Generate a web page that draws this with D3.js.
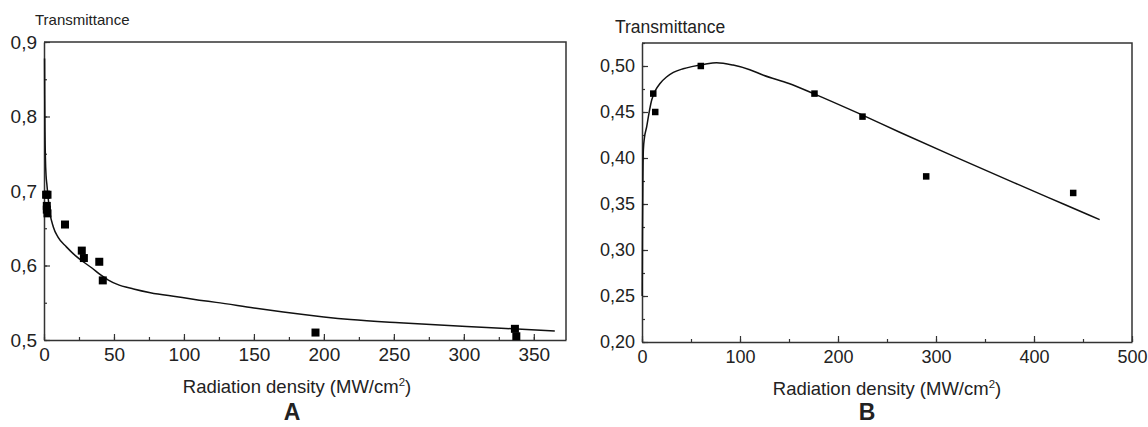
<!DOCTYPE html>
<html lang="en">
<head>
  <meta charset="UTF-8">
  <title>Transmittance vs radiation density</title>
  <script src="https://cdn.jsdelivr.net/npm/d3@7"></script>
  <style>
    body { margin: 0; background: #fff; }
    text { font-family: "Liberation Sans", Arial, sans-serif; fill: #222; }
  </style>
</head>
<body>
  <svg id="chart" width="1148" height="427"></svg>
  <script>
    // panel A: measured points
    const densityA = [1.5, 2.5, 2, 2, 2.5, 15, 27, 28.5, 39.5, 42, 194, 336.5, 337.5];
    const transA = [0.695, 0.695, 0.68, 0.675, 0.67, 0.655, 0.62, 0.61, 0.605, 0.58, 0.51, 0.515, 0.505];
    // panel A: fitted curve
    const fitDensityA = [0.4, 0.5, 0.7, 1, 1.5, 2, 3, 4.3, 6.6, 10, 16, 22, 28, 34, 40, 46, 52, 64, 76, 95, 111, 123, 150, 171, 200, 219, 254, 302, 330, 365];
    const fitTransA = [0.878, 0.83, 0.78, 0.745, 0.72, 0.71, 0.69, 0.67, 0.652, 0.638, 0.625, 0.614, 0.605, 0.597, 0.588, 0.5805, 0.575, 0.5685, 0.5635, 0.558, 0.5535, 0.5505, 0.543, 0.5375, 0.531, 0.5275, 0.523, 0.518, 0.5155, 0.512];
    const xTicksA = [0, 50, 100, 150, 200, 250, 300, 350];
    const yTicksA = [0.5, 0.6, 0.7, 0.8, 0.9];

    // panel B: measured points
    const densityB = [11.5, 13.5, 60, 176, 225, 290, 440];
    const transB = [0.47, 0.45, 0.5, 0.47, 0.445, 0.38, 0.362];
    // panel B: fitted curve
    const fitDensityB = [0.2, 0.5, 0.9, 1.4, 2.5, 4.8, 7, 9.9, 14, 18.4, 25, 32, 42, 52, 64, 76, 93, 110, 124, 150, 175, 220, 263, 320, 380, 430, 467];
    const fitTransB = [0.25, 0.32, 0.375, 0.409, 0.422, 0.434, 0.448, 0.463, 0.474, 0.481, 0.488, 0.493, 0.497, 0.4996, 0.502, 0.5036, 0.501, 0.496, 0.49, 0.481, 0.47, 0.449, 0.428, 0.401, 0.373, 0.35, 0.333];
    const xTicksB = [0, 100, 200, 300, 400, 500];
    const yTicksB = [0.2, 0.25, 0.3, 0.35, 0.4, 0.45, 0.5];

    const svg = d3.select('#chart');
    const comma = f => v => d3.format(f)(v).replace('.', ',');

    function drawPanel(p) {
      const x = d3.scaleLinear().domain(p.xDomain).range([p.left, p.right]);
      const y = d3.scaleLinear().domain(p.yDomain).range([p.bottom, p.top]);
      const g = svg.append('g');

      // frame (top and right edges)
      g.append('path')
        .attr('d', `M${p.left},${p.top} H${p.right} V${p.bottom}`)
        .attr('fill', 'none')
        .attr('stroke', '#333')
        .attr('stroke-width', 1.5);

      // minor ticks
      const xMinor = d3.range(p.xDomain[0], p.xDomain[1] + 1e-9, p.xMinor);
      const yMinor = d3.range(p.yDomain[0], p.yDomain[1] + 1e-9, p.yMinor);
      g.append('g')
        .attr('transform', `translate(0,${p.bottom})`)
        .call(d3.axisBottom(x).tickValues(xMinor).tickSize(-3).tickFormat(''))
        .call(a => a.select('.domain').remove());
      g.append('g')
        .attr('transform', `translate(${p.left},0)`)
        .call(d3.axisLeft(y).tickValues(yMinor).tickSize(-3).tickFormat(''))
        .call(a => a.select('.domain').remove());

      // major axes
      const xa = g.append('g')
        .attr('transform', `translate(0,${p.bottom})`)
        .call(d3.axisBottom(x).tickValues(p.xTicks).tickSize(-6).tickPadding(8).tickSizeOuter(0).tickFormat(d3.format('d')));
      const ya = g.append('g')
        .attr('transform', `translate(${p.left},0)`)
        .call(d3.axisLeft(y).tickValues(p.yTicks).tickSize(-6).tickPadding(7).tickSizeOuter(0).tickFormat(comma(p.yFmt)));
      [xa, ya].forEach(a => {
        a.select('.domain').attr('stroke', '#333').attr('stroke-width', 1.5);
        a.selectAll('text').attr('font-size', p.tickFont).attr('fill', '#222')
          .attr('font-family', '"Liberation Sans", Arial, sans-serif');
      });
      g.selectAll('.tick line').attr('stroke', '#333').attr('stroke-width', 1.2);

      // fit curve
      const line = d3.line()
        .x(d => x(d[0]))
        .y(d => y(d[1]))
        .curve(d3.curveMonotoneX);
      g.append('path')
        .datum(d3.zip(p.fitX, p.fitY))
        .attr('d', line)
        .attr('fill', 'none')
        .attr('stroke', '#111')
        .attr('stroke-width', 1.5);

      // data squares
      g.selectAll('.pt')
        .data(d3.zip(p.ptX, p.ptY))
        .enter()
        .append('rect')
        .attr('x', d => x(d[0]) - p.sq / 2)
        .attr('y', d => y(d[1]) - p.sq / 2)
        .attr('width', p.sq)
        .attr('height', p.sq)
        .attr('fill', '#000');

      // y title
      g.append('text')
        .attr('x', p.yTitleX)
        .attr('y', p.yTitleY)
        .attr('font-size', p.yTitleFont)
        .text('Transmittance');

      // x title with superscript
      const xt = g.append('text')
        .attr('x', (p.left + p.right) / 2 + p.xTitleShift)
        .attr('y', p.xTitleY)
        .attr('text-anchor', 'middle')
        .attr('font-size', p.xTitleFont);
      xt.append('tspan').text('Radiation density (MW/cm');
      xt.append('tspan').attr('font-size', p.xTitleFont * 0.62).attr('dy', -7).text('2');
      xt.append('tspan').attr('dy', 7).text(')');

      // panel letter
      g.append('text')
        .attr('x', p.letterX)
        .attr('y', 420)
        .attr('text-anchor', 'middle')
        .attr('font-size', 23)
        .attr('font-weight', 'bold')
        .attr('fill', '#000')
        .text(p.letter);
    }

    drawPanel({
      left: 44, right: 566, top: 42, bottom: 340,
      xDomain: [0, 373], yDomain: [0.5, 0.9],
      xTicks: xTicksA, yTicks: yTicksA, xMinor: 25, yMinor: 0.05, yFmt: '.1f',
      ptX: densityA, ptY: transA, fitX: fitDensityA, fitY: fitTransA,
      sq: 8, tickFont: 19,
      yTitleX: 35, yTitleY: 25, yTitleFont: 15,
      xTitleY: 393, xTitleFont: 18.5, xTitleShift: -8,
      letter: 'A', letterX: 292
    });

    drawPanel({
      left: 642, right: 1132, top: 43, bottom: 342,
      xDomain: [0, 500], yDomain: [0.2, 0.525],
      xTicks: xTicksB, yTicks: yTicksB, xMinor: 50, yMinor: 0.025, yFmt: '.2f',
      ptX: densityB, ptY: transB, fitX: fitDensityB, fitY: fitTransB,
      sq: 6.5, tickFont: 18,
      yTitleX: 615, yTitleY: 33, yTitleFont: 17.5,
      xTitleY: 395, xTitleFont: 18.5, xTitleShift: 0,
      letter: 'B', letterX: 867
    });
  </script>
</body>
</html>
